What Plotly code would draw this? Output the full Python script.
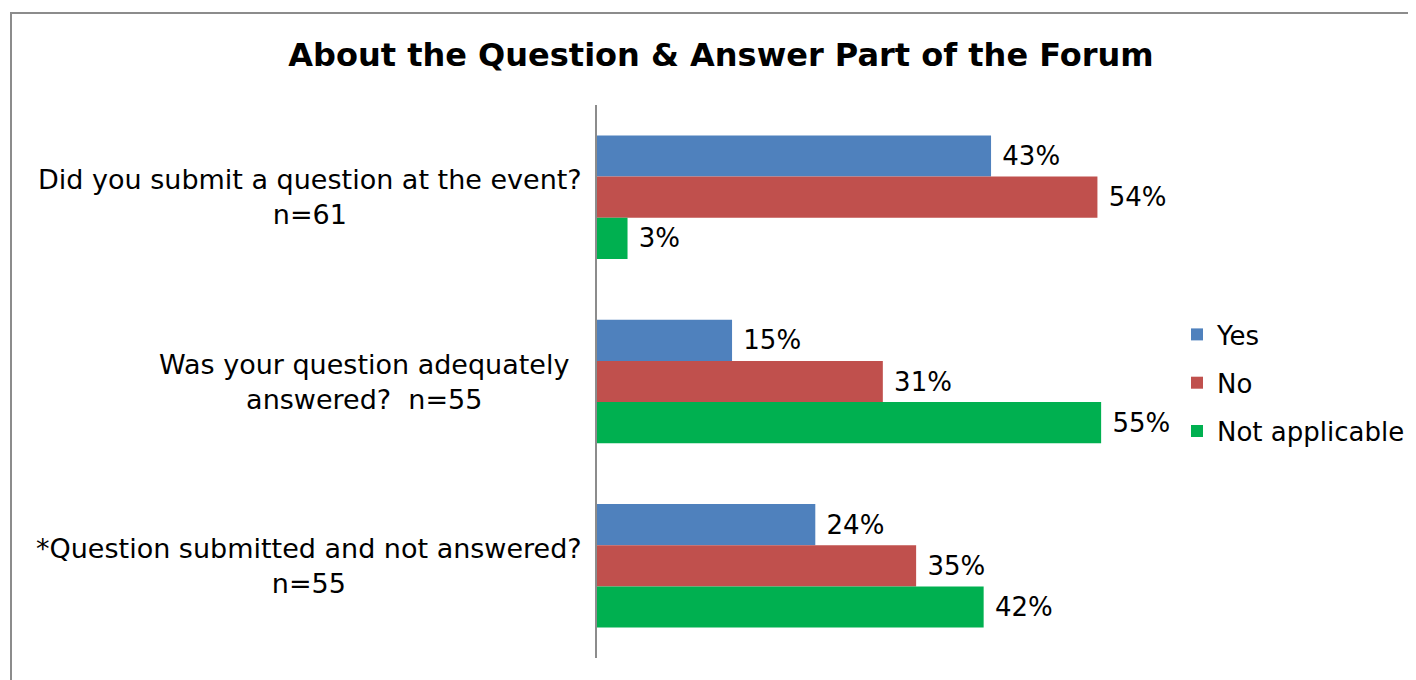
import plotly.graph_objects as go

categories = ["Did you submit a question at the event?<br>n=61",
              "Was your question adequately<br>answered?\u00a0\u00a0n=55",
              "*Question submitted and not answered?<br>n=55"]
series_names = ["Yes", "No", "Not applicable"]
yes_vals = [0.426, 0.146, 0.236]
no_vals = [0.541, 0.309, 0.345]
na_vals = [0.033, 0.545, 0.418]
colors = ["#4F81BD", "#C0504D", "#00B050"]

OFF = 8  # page body margin
W, H = 1416 - OFF, 680 - OFF
# target page pixel positions
AX_L, AX_R, AX_T, AX_B = 597, 1152, 105, 658
L, T = AX_L - OFF, AX_T - OFF
R = W - (AX_R - OFF)
B = H - (AX_B - OFF)
pw, ph = W - L - R, H - T - B
FONT = "DejaVu Sans"

fig = go.Figure()
for name, vals, c in zip(series_names, [yes_vals, no_vals, na_vals], colors):
    fig.add_trace(go.Bar(
        y=categories, x=vals, name=name, orientation="h",
        marker=dict(color=c, line=dict(width=0)),
        texttemplate="\u00a0%{x:.0%}", textposition="outside",
        textfont=dict(size=26, color="black", family=FONT),
        cliponaxis=False, legendgroup=name,
    ))

def px2x(px):
    return (px - AX_L) / pw

def py2y(py):
    return (AX_B - py) / ph

label_right = [584, 571, 584]
annots = []
for cat, rx in zip(categories, label_right):
    annots.append(dict(xref="paper", yref="y", x=px2x(rx), y=cat, text=cat,
                       xanchor="right", yanchor="middle", align="center",
                       showarrow=False,
                       font=dict(size=27, color="black", family=FONT)))

fig.update_layout(
    width=W, height=H,
    margin=dict(l=L, r=R, t=T, b=B, autoexpand=False),
    paper_bgcolor="white", plot_bgcolor="white",
    barmode="group", bargap=0.33, bargroupgap=0,
    title=dict(text="<b>About the Question & Answer Part of the Forum</b>",
               x=(721 - OFF) / W, xanchor="center", y=(H - (55 - OFF)) / H,
               yanchor="middle",
               font=dict(size=32, color="black", family=FONT)),
    xaxis=dict(range=[0, 0.6], visible=False, showgrid=False, zeroline=False),
    yaxis=dict(autorange="reversed", showticklabels=False, showgrid=False,
               showline=True, linecolor="#8c8c8c", linewidth=2, ticks="",
               zeroline=False),
    legend=dict(xref="container", yref="container",
                x=(1177 - OFF) / W, xanchor="left",
                y=(H - (311 - OFF)) / H, yanchor="top",
                traceorder="grouped", tracegroupgap=11.5,
                font=dict(size=26, color="black", family=FONT),
                bgcolor="rgba(0,0,0,0)"),
    annotations=annots,
    shapes=[dict(type="rect", xref="paper", yref="paper",
                 x0=px2x(11), x1=px2x(1440), y0=py2y(720), y1=py2y(13),
                 line=dict(color="#8c8c8c", width=2), fillcolor="rgba(0,0,0,0)",
                 layer="below")],
    showlegend=True,
)

fig.write_html("out.html")
